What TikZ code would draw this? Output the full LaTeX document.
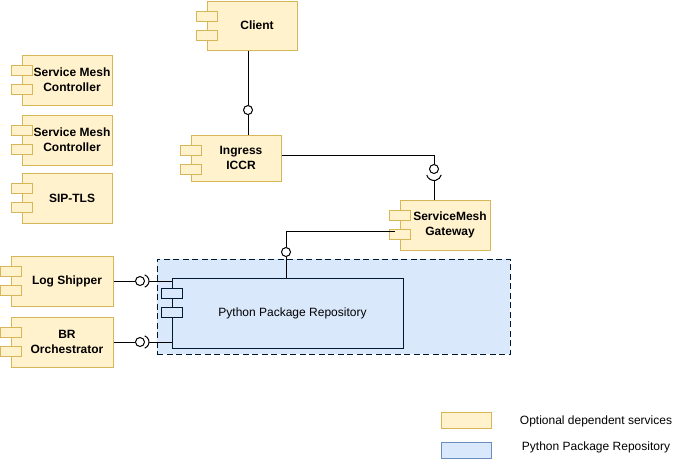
\documentclass[tikz,border=0pt]{standalone}
\usepackage{fontspec}
\setmainfont{Liberation Sans}
\usetikzlibrary{positioning}
\definecolor{yelfill}{HTML}{FFF2CC}
\definecolor{yeldraw}{HTML}{D6B656}
\definecolor{blufill}{HTML}{DAE8FC}
\definecolor{bludraw}{HTML}{6C8EBF}
\definecolor{navy}{HTML}{001933}

\begin{document}
\begin{tikzpicture}[x=1pt, y=-1pt, line width=1pt,
        font=\fontsize{12}{15}\selectfont,
        comp/.style = {draw=yeldraw, fill=yelfill, minimum width=90pt, minimum height=50pt, inner sep=0},
        port/.style = {draw=yeldraw, fill=yelfill, minimum width=21pt, minimum height=10pt, inner sep=0},
        txt/.style = {font=\fontsize{12}{15}\selectfont\bfseries, align=center, xshift=5pt},
        ball/.style = {draw, circle, fill=white, minimum size=9pt, inner sep=0},
        wire/.style = {draw, line width=1pt}]
    \useasboundingbox (0,0) rectangle (685,464);
        \node[draw=navy, fill=blufill, dash pattern=on 6pt off 3.5pt, minimum width=353pt, minimum height=95pt] (pkg) at (333.5,306.5) {};
        \node[draw=navy, fill=blufill, minimum width=231pt, minimum height=70pt, inner sep=0, label={[xshift=5pt]center:Python Package Repository}] (repo) at (287.5,313) {};
        \node[comp, minimum height=49pt, label={[txt]center:Client}] (client) at (252,25.5) {};
        \node[comp, minimum height=46pt, label={[txt]center:Ingress\\ICCR}] (ingress) at (236,158) {};
        \node[comp, label={[txt]center:ServiceMesh\\Gateway}] (gateway) at (445,225) {};
        \node[comp, label={[txt]center:Service Mesh\\Controller}] (smc1) at (67,80) {};
        \node[comp, label={[txt]center:Service Mesh\\Controller}] (smc2) at (67,140) {};
        \node[comp, label={[txt]center:SIP-TLS}] (siptls) at (67,198) {};
        \node[comp, minimum width=102pt, label={[txt]center:Log Shipper}] (logship) at (62,281) {};
        \node[comp, minimum width=102pt, label={[txt]center:BR\\Orchestrator}] (brorch) at (62,342) {};
        \foreach \c in {client,ingress,gateway,smc1,smc2,siptls,logship,brorch} {
            \node[port] (\c-p1) at ([yshift=-15.5pt]\c.north west) {};
            \node[port] (\c-p2) at ([yshift=-35pt]\c.north west) {};
        }
        \node[port, draw=navy, fill=blufill] (repo-p1) at ([yshift=-15.5pt]repo.north west) {};
        \node[port, draw=navy, fill=blufill] (repo-p2) at ([yshift=-35pt]repo.north west) {};
        \node[ball] (b1) at (248,110) {};
        \node[ball] (b2) at (434,169) {};
        \node[ball] (b3) at (286,252) {};
        \node[ball] (b4) at (140,281) {};
        \node[ball] (b5) at (140,342) {};
        \draw[wire] (client.south -| b1) -- (b1);
        \draw[wire] (b1) -- (b1 |- ingress.north);
        \draw[wire] ([yshift=3pt]ingress.east) -| (b2);
        \draw[wire] ([yshift=-4pt]b2.center) ++(195:7.5pt) arc[start angle=195, end angle=345, radius=7.5pt];
        \draw[wire] ([yshift=-11.5pt]b2.center) -- (b2 |- gateway.north);
        \draw[wire] ([xshift=-5pt, yshift=-6pt]gateway.west) -| (b3);
        \draw[wire] (b3) -- (b3 |- repo.north);
        \draw[wire] (logship.east) -- (b4);
        \draw[wire] ([xshift=2.5pt]b4.center) ++(-70:6.5pt) arc[start angle=-70, end angle=70, radius=6.5pt];
        \draw[wire] ([xshift=9pt]b4.center) -- (repo.west |- b4);
        \draw[wire] (brorch.east) -- (b5);
        \draw[wire] ([xshift=2.5pt]b5.center) ++(-70:6.5pt) arc[start angle=-70, end angle=70, radius=6.5pt];
        \draw[wire] ([xshift=9pt]b5.center) -- (repo.west |- b5);
        \node[draw=yeldraw, fill=yelfill, minimum width=50pt, minimum height=16pt, inner sep=0] (leg1) at (466,420) {};
        \node[draw=bludraw, fill=blufill, minimum width=50pt, minimum height=16pt, inner sep=0] (leg2) at (466,450) {};
        \node (lt1) at (596,421) {Optional dependent services};
        \node (lt2) at (596,447) {Python Package Repository};
\end{tikzpicture}
\end{document}
